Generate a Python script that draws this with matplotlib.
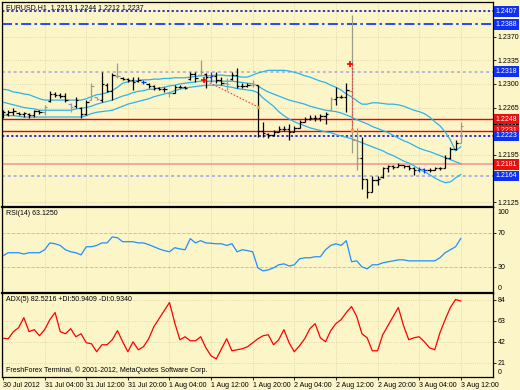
import matplotlib
matplotlib.use('Agg')
import matplotlib.pyplot as plt
import numpy as np

plt.rcParams['font.family'] = ['Liberation Sans', 'DejaVu Sans']

# EURUSD H1 bars, index 0 = 30 Jul 2012 20:00, last = 3 Aug 2012 12:00
opens = [1.2253, 1.2256, 1.2259, 1.2257, 1.2256, 1.2256, 1.2254, 1.2260, 1.2258, 1.2275,
         1.2285, 1.2284, 1.2282, 1.2270, 1.2268, 1.2264, 1.2256, 1.2276, 1.2280, 1.2276,
         1.2298, 1.2290, 1.2312, 1.2309, 1.2307, 1.2306, 1.2304, 1.2303, 1.2300, 1.2297,
         1.2294, 1.2293, 1.2287, 1.2287, 1.2296, 1.2296, 1.2307, 1.2315, 1.2313, 1.2315,
         1.2310, 1.2312, 1.2306, 1.2301, 1.2307, 1.2313, 1.2297, 1.2297, 1.2298, 1.2298,
         1.2230, 1.2226, 1.2224, 1.2229, 1.2233, 1.2234, 1.2229, 1.2235, 1.2244, 1.2248,
         1.2250, 1.2249, 1.2252, 1.2262, 1.2278, 1.2280, 1.2281, 1.2290, 1.2217, 1.2190,
         1.2160, 1.2140, 1.2158, 1.2162, 1.2175, 1.2178, 1.2177, 1.2180, 1.2178, 1.2176,
         1.2172, 1.2174, 1.2172, 1.2173, 1.2175, 1.2176, 1.2190, 1.2203, 1.2213]
highs = [1.2262, 1.2262, 1.2264, 1.2259, 1.2259, 1.2257, 1.2262, 1.2262, 1.2269, 1.2289,
         1.2288, 1.2286, 1.2286, 1.2272, 1.2281, 1.2266, 1.2276, 1.2301, 1.2281, 1.2317,
         1.2301, 1.2316, 1.2331, 1.2310, 1.2309, 1.2310, 1.2310, 1.2306, 1.2301, 1.2298,
         1.2295, 1.2295, 1.2288, 1.2298, 1.2298, 1.2297, 1.2317, 1.2317, 1.2335, 1.2316,
         1.2317, 1.2317, 1.2310, 1.2309, 1.2317, 1.2323, 1.2301, 1.2301, 1.2306, 1.2298,
         1.2244, 1.2228, 1.2232, 1.2237, 1.2237, 1.2240, 1.2237, 1.2247, 1.2251, 1.2254,
         1.2254, 1.2256, 1.2259, 1.2281, 1.2295, 1.2283, 1.2301, 1.2402, 1.2235, 1.2222,
         1.2160, 1.2164, 1.2164, 1.2177, 1.2180, 1.2180, 1.2183, 1.2180, 1.2180, 1.2177,
         1.2177, 1.2176, 1.2176, 1.2177, 1.2177, 1.2195, 1.2207, 1.2217, 1.2244]
lows = [1.2250, 1.2253, 1.2254, 1.2254, 1.2251, 1.2250, 1.2251, 1.2256, 1.2254, 1.2273,
        1.2281, 1.2279, 1.2273, 1.2259, 1.2265, 1.2250, 1.2254, 1.2276, 1.2276, 1.2273,
        1.2288, 1.2276, 1.2309, 1.2306, 1.2303, 1.2291, 1.2303, 1.2300, 1.2294, 1.2291,
        1.2291, 1.2288, 1.2281, 1.2286, 1.2294, 1.2292, 1.2306, 1.2303, 1.2313, 1.2294,
        1.2303, 1.2301, 1.2298, 1.2291, 1.2306, 1.2294, 1.2294, 1.2295, 1.2295, 1.2222,
        1.2222, 1.2220, 1.2223, 1.2229, 1.2231, 1.2217, 1.2229, 1.2235, 1.2244, 1.2247,
        1.2245, 1.2245, 1.2240, 1.2262, 1.2269, 1.2279, 1.2259, 1.2198, 1.2173, 1.2144,
        1.2131, 1.2140, 1.2150, 1.2161, 1.2170, 1.2174, 1.2177, 1.2176, 1.2173, 1.2166,
        1.2170, 1.2168, 1.2170, 1.2173, 1.2173, 1.2176, 1.2189, 1.2202, 1.2212]
closes = [1.2259, 1.2259, 1.2260, 1.2256, 1.2257, 1.2254, 1.2260, 1.2259, 1.2266, 1.2285,
          1.2284, 1.2282, 1.2276, 1.2266, 1.2276, 1.2256, 1.2273, 1.2297, 1.2278, 1.2300,
          1.2290, 1.2313, 1.2312, 1.2307, 1.2306, 1.2303, 1.2306, 1.2303, 1.2297, 1.2294,
          1.2293, 1.2292, 1.2286, 1.2296, 1.2296, 1.2294, 1.2315, 1.2309, 1.2317, 1.2310,
          1.2312, 1.2306, 1.2301, 1.2300, 1.2313, 1.2297, 1.2297, 1.2298, 1.2300, 1.2230,
          1.2228, 1.2224, 1.2229, 1.2233, 1.2234, 1.2229, 1.2235, 1.2244, 1.2248, 1.2250,
          1.2249, 1.2252, 1.2255, 1.2278, 1.2280, 1.2281, 1.2291, 1.2217, 1.2190, 1.2160,
          1.2140, 1.2158, 1.2160, 1.2175, 1.2178, 1.2177, 1.2180, 1.2178, 1.2176, 1.2172,
          1.2174, 1.2172, 1.2173, 1.2175, 1.2176, 1.2190, 1.2203, 1.2212, 1.2237]

bb_upper = [1.2292, 1.2291, 1.2288, 1.2287, 1.2285, 1.2284, 1.2281, 1.2278, 1.2276, 1.2276,
            1.2276, 1.2276, 1.2276, 1.2276, 1.2276, 1.2276, 1.2278, 1.2281, 1.2284, 1.2285,
            1.2287, 1.2290, 1.2295, 1.2301, 1.2303, 1.2304, 1.2305, 1.2306, 1.2306, 1.2307,
            1.2307, 1.2308, 1.2308, 1.2309, 1.2309, 1.2309, 1.2310, 1.2311, 1.2312, 1.2312,
            1.2312, 1.2313, 1.2313, 1.2312, 1.2312, 1.2311, 1.2310, 1.2310, 1.2313, 1.2316,
            1.2318, 1.2320, 1.2320, 1.2320, 1.2320, 1.2319, 1.2317, 1.2315, 1.2312, 1.2310,
            1.2307, 1.2304, 1.2302, 1.2298, 1.2295, 1.2291, 1.2285, 1.2281, 1.2275, 1.2270,
            1.2270, 1.2272, 1.2272, 1.2271, 1.2270, 1.2270, 1.2269, 1.2267, 1.2264, 1.2261,
            1.2259, 1.2256, 1.2251, 1.2244, 1.2238, 1.2229, 1.2217, 1.2201, 1.2207]
bb_mid = [1.2273, 1.2271, 1.2269, 1.2267, 1.2265, 1.2264, 1.2263, 1.2261, 1.2261, 1.2261,
          1.2261, 1.2261, 1.2261, 1.2261, 1.2263, 1.2264, 1.2265, 1.2267, 1.2270, 1.2272,
          1.2274, 1.2276, 1.2279, 1.2282, 1.2284, 1.2287, 1.2289, 1.2290, 1.2292, 1.2292,
          1.2294, 1.2295, 1.2297, 1.2298, 1.2300, 1.2301, 1.2302, 1.2303, 1.2304, 1.2304,
          1.2304, 1.2304, 1.2304, 1.2304, 1.2304, 1.2303, 1.2302, 1.2301, 1.2300, 1.2297,
          1.2292, 1.2288, 1.2285, 1.2282, 1.2279, 1.2276, 1.2274, 1.2272, 1.2270, 1.2267,
          1.2265, 1.2263, 1.2261, 1.2260, 1.2259, 1.2257, 1.2254, 1.2251, 1.2247, 1.2244,
          1.2241, 1.2237, 1.2234, 1.2231, 1.2228, 1.2224, 1.2220, 1.2216, 1.2213, 1.2209,
          1.2205, 1.2202, 1.2200, 1.2197, 1.2194, 1.2191, 1.2188, 1.2185, 1.2182]
bb_lower = [1.2254, 1.2253, 1.2253, 1.2252, 1.2251, 1.2251, 1.2251, 1.2251, 1.2251, 1.2251,
            1.2251, 1.2251, 1.2251, 1.2251, 1.2251, 1.2251, 1.2253, 1.2256, 1.2258, 1.2259,
            1.2260, 1.2261, 1.2264, 1.2267, 1.2270, 1.2272, 1.2274, 1.2276, 1.2278, 1.2281,
            1.2283, 1.2285, 1.2287, 1.2290, 1.2292, 1.2294, 1.2295, 1.2296, 1.2297, 1.2298,
            1.2298, 1.2298, 1.2298, 1.2296, 1.2295, 1.2293, 1.2292, 1.2291, 1.2290, 1.2287,
            1.2279, 1.2273, 1.2267, 1.2259, 1.2253, 1.2248, 1.2244, 1.2241, 1.2238, 1.2235,
            1.2233, 1.2231, 1.2229, 1.2228, 1.2225, 1.2223, 1.2221, 1.2219, 1.2216, 1.2213,
            1.2210, 1.2207, 1.2204, 1.2201, 1.2197, 1.2194, 1.2190, 1.2186, 1.2183, 1.2179,
            1.2174, 1.2170, 1.2166, 1.2161, 1.2157, 1.2154, 1.2155, 1.2161, 1.2166]

rsi = [43, 46.5, 46.5, 46.5, 45, 46.5, 46.5, 46.5, 50, 58,
       57, 55, 50, 47.6, 46.5, 44, 53.5, 53.5, 55, 58,
       58, 65, 64, 59.4, 59.4, 59.4, 58, 58, 56, 53.5,
       51, 49, 47.6, 52.4, 51, 50, 63, 58, 60.6, 58,
       57.6, 57, 57, 55, 57, 47.6, 50, 49, 47.6, 28.8,
       25.3, 26.5, 28.8, 32.4, 33.5, 31, 32.4, 39.4, 40.6, 40.6,
       41.8, 41.8, 50, 55, 57, 55, 60.6, 36, 37, 30,
       27.6, 32.4, 32.4, 34.7, 35.9, 37, 38.2, 38.2, 37, 37,
       37, 37, 37, 37, 40.6, 46.5, 50, 53.5, 63.125]
adx = [45.3, 44.8, 51.9, 55.9, 65.9, 51.9, 53.9, 47.8, 53.9, 63.9,
       71, 51.9, 49.8, 54.9, 46.8, 49.8, 40.8, 39.8, 31.8, 38.8,
       38.8, 43.8, 52.9, 41.8, 31.8, 41.8, 33.8, 36.8, 44.8, 56.9,
       64.9, 73, 81, 60.9, 43.8, 46.8, 42.8, 42.8, 46.8, 35.8,
       27.7, 24.7, 34.8, 44.8, 32.8, 33.8, 34.8, 36.8, 40.8, 44.8,
       47.8, 48.8, 38.8, 43.8, 53.9, 40.8, 31.8, 37.8, 44.8, 54.9,
       59.9, 45.8, 41.8, 52.9, 59.9, 63.9, 71, 77, 67, 49.8,
       45.8, 32.8, 32.8, 48.8, 57.9, 67, 76, 57.9, 43.8, 45.8,
       46.8, 41.8, 35.8, 33.8, 50.8, 63.9, 76, 84, 82.5216]

time_labels = ['30 Jul 2012', '31 Jul 04:00', '31 Jul 12:00', '31 Jul 20:00',
               '1 Aug 04:00', '1 Aug 12:00', '1 Aug 20:00', '2 Aug 04:00',
               '2 Aug 12:00', '2 Aug 20:00', '3 Aug 04:00', '3 Aug 12:00']
label_every = 8

# horizontal levels: price, label box colour
level_prices = [1.2407, 1.2388, 1.2318, 1.2248, 1.2231, 1.2223, 1.2181, 1.2164]
level_box = ['#1030F0', '#1030F0', '#1030F0', '#E81010', '#E81010', '#1030F0', '#E81010', '#1030F0']
current_price = 1.2237

# hand-drawn trend marks
trend_x = [38.6, 49.0]
trend_y = [1.2306, 1.2266]
spike_x = [67.0, 67.0]
spike_y = [1.2329, 1.2232]

price_ticks = [1.2370, 1.2335, 1.2300, 1.2265, 1.2195, 1.2125]

gray_bars = [8, 17, 22, 32, 38, 43, 48, 63, 67, 68, 88]
blue_bars = [27, 40, 80, 81]
violet_bars = [13, 18]

bg = '#FCF5C8'
grid_c = '#D8D0A8'
band_c = '#2AB4EC'
fs = 5

n = len(closes)
x = np.arange(n)
bar_colors = []
for i in range(n):
    if i in gray_bars:
        bar_colors.append('#9C9C88')
    elif i in blue_bars:
        bar_colors.append('#1030F0')
    elif i in violet_bars:
        bar_colors.append('#9890E8')
    else:
        bar_colors.append('black')

fig = plt.figure(figsize=(5.2, 3.9), dpi=100)
fig.patch.set_facecolor(bg)
L, W = 2 / 520, 491 / 520
ax1 = fig.add_axes([L, 1 - 207 / 390, W, 205 / 390])
ax2 = fig.add_axes([L, 1 - 292.5 / 390, W, 85.5 / 390])
ax3 = fig.add_axes([L, 1 - 377 / 390, W, 84.5 / 390])

xt = list(range(0, n, label_every))
for ax in (ax1, ax2, ax3):
    ax.set_facecolor(bg)
    ax.set_xlim(-0.2, 94.2)
    ax.set_xticks(xt)
    ax.tick_params(axis='y', left=False, labelleft=False, right=True, labelright=True,
                   labelsize=fs, length=2, pad=1.2, width=0.6)
    ax.tick_params(axis='x', length=2, width=0.6, labelsize=fs, pad=1.5)
    for s in ax.spines.values():
        s.set_linewidth(0.9)
    ax.grid(True, color=grid_c, linestyle=':', linewidth=0.6)
    ax.set_axisbelow(True)
ax2.spines['top'].set_linewidth(1.6)
ax3.spines['top'].set_linewidth(1.6)
ax1.tick_params(axis='x', labelbottom=False, bottom=False)
ax2.tick_params(axis='x', labelbottom=False, bottom=False)

# price panel
ax1.set_ylim(1.2118, 1.2421)
ax1.set_yticks(price_ticks)
ax1.set_yticklabels([f'{p:.4f}' for p in price_ticks])

styles = [dict(ls=(0, (1.5, 1.5)), color='#0000C8', lw=1.1),
          dict(ls=(0, (6, 2, 1.5, 2)), color='#0030FF', lw=1.2),
          dict(ls=(0, (1.5, 1.5)), color='#B8B8D4', lw=1.4),
          dict(ls='-', color='#F00000', lw=1.0),
          dict(ls='-', color='#F00000', lw=1.0),
          dict(ls=(0, (1.5, 1.5)), color='#0000C8', lw=1.1),
          dict(ls='-', color='#F4A8A0', lw=1.4),
          dict(ls=(0, (1.5, 1.5)), color='#B0B0E4', lw=1.4)]
for p, st in zip(level_prices, styles):
    ax1.axhline(p, zorder=1, **st)

ax1.plot(x, bb_upper, color=band_c, lw=0.9, zorder=2)
ax1.plot(x, bb_mid, color=band_c, lw=0.9, zorder=2)
ax1.plot(x, bb_lower, color=band_c, lw=0.9, zorder=2)

ax1.vlines(x, lows, highs, colors=bar_colors, lw=0.9, zorder=3)
ax1.hlines(opens, x - 0.45, x, colors=bar_colors, lw=0.9, zorder=3)
ax1.hlines(closes, x, x + 0.45, colors=bar_colors, lw=0.9, zorder=3)

ax1.plot(trend_x, trend_y, color='#F04040', lw=0.8, ls=(0, (1.5, 1.5)), zorder=4)
ax1.plot(spike_x, spike_y, color='#F04040', lw=0.8, ls=(0, (1.5, 1.5)), zorder=4)
ax1.plot([trend_x[0], spike_x[0] - 0.3], [trend_y[0], spike_y[0]], '+', color='red',
         ms=4, mew=1.2, zorder=5)
ax1.plot([trend_x[1], spike_x[1]], [trend_y[1], spike_y[1]], 's', color='#F0A040',
         ms=1.8, zorder=5)

ax1.text(0.008, 0.992, 'EURUSD,H1  1.2213 1.2244 1.2212 1.2237', transform=ax1.transAxes,
         fontsize=fs, va='top', ha='left')

ytr = ax1.get_yaxis_transform()
ax1.text(1.005, current_price, f'{current_price:.4f}', transform=ytr, fontsize=fs,
         color='white', va='center', ha='left', zorder=6,
         bbox=dict(boxstyle='square,pad=0.25', facecolor='black', edgecolor='none'))
for p, c in zip(level_prices, level_box):
    ax1.text(1.005, p, f'{p:.4f}', transform=ytr, fontsize=fs, color='white',
             va='center', ha='left', zorder=7,
             bbox=dict(boxstyle='square,pad=0.25', facecolor=c, edgecolor='none'))

# RSI panel
ax2.set_ylim(0, 100)
ax2.set_yticks([70, 30])
ax2.set_yticklabels(['70', '30'])
ax2.axhline(70, color='#C8C0A0', lw=0.7, ls=(0, (3, 2)))
ax2.axhline(30, color='#C8C0A0', lw=0.7, ls=(0, (3, 2)))
ax2.plot(x, rsi, color='#1E90FF', lw=0.9)
ax2.text(0.008, 0.96, f'RSI(14) {rsi[-1]:.4f}', transform=ax2.transAxes,
         fontsize=fs, va='top', ha='left')
yt2 = ax2.get_yaxis_transform()
ax2.text(1.01, 98, '100', transform=yt2, fontsize=fs, va='top', ha='left')
ax2.text(1.01, 1, '0', transform=yt2, fontsize=fs, va='bottom', ha='left')

# ADX panel
ax3.set_ylim(6.6, 91)
ax3.set_yticks([84, 63, 42, 21])
ax3.set_yticklabels(['84', '63', '42', '21'])
ax3.plot(x, adx, color='#FF0000', lw=0.9)
ax3.text(0.008, 0.96, f'ADX(5) {adx[-1]:.4f} +DI:50.9409 -DI:0.9340',
         transform=ax3.transAxes, fontsize=fs, va='top', ha='left')
ax3.text(0.008, 0.03, 'FreshForex Terminal, \u00a9 2001-2012, MetaQuotes Software Corp.',
         transform=ax3.transAxes, fontsize=fs, va='bottom', ha='left')
ax3.text(1.01, 8, '0', transform=ax3.get_yaxis_transform(), fontsize=fs,
         va='bottom', ha='left')
ax3.set_xticklabels(time_labels, ha='left')

fig.savefig('out.png', dpi=100, facecolor=bg)
